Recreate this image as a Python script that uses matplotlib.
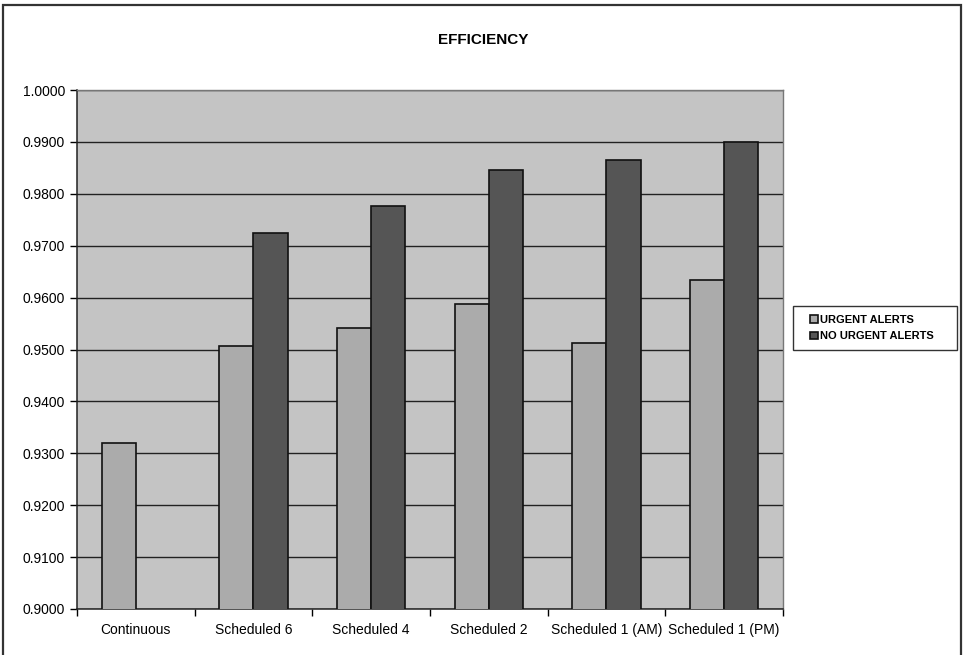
import matplotlib
matplotlib.use("Agg")
import matplotlib.pyplot as plt
from matplotlib.patches import Rectangle
import numpy as np

plt.rcParams['font.family'] = ['Liberation Sans', 'DejaVu Sans']

categories = ["Continuous", "Scheduled 6", "Scheduled 4", "Scheduled 2",
              "Scheduled 1 (AM)", "Scheduled 1 (PM)"]
urgent = [0.9320, 0.9507, 0.9542, 0.9587, 0.9513, 0.9634]
no_urgent = [np.nan, 0.9725, 0.9776, 0.9845, 0.9865, 0.9899]
yticks = [0.90, 0.91, 0.92, 0.93, 0.94, 0.95, 0.96, 0.97, 0.98, 0.99, 1.00]

W, H = 964, 655
fig = plt.figure(figsize=(W / 100, H / 100), dpi=100)
ax = fig.add_axes([77 / W, 1 - 609 / H, 706 / W, 519 / H])

# outer frame round the whole chart (bottom runs off the page)
fig.patches.append(Rectangle((3 / W, -0.02), 958 / W, 1 - 5 / H + 0.02,
                             transform=fig.transFigure, fill=False,
                             edgecolor="#333333", linewidth=1.6))

x = np.arange(len(categories))
w = 0.29
ax.set_facecolor("#c4c4c4")
ax.bar(x - w / 2, urgent, w, color="#ababab", edgecolor="#111111",
       linewidth=1.2, label="URGENT ALERTS", zorder=3)
ax.bar(x + w / 2, no_urgent, w, color="#555555", edgecolor="#111111",
       linewidth=1.2, label="NO URGENT ALERTS", zorder=3)

ax.set_xlim(-0.5, len(categories) - 0.5)
ax.set_ylim(0.90, 1.00)
ax.set_yticks(yticks)
ax.set_yticklabels([f"{v:.4f}" for v in yticks], fontsize=10)
ax.yaxis.grid(True, color="#222222", linewidth=1.0, zorder=1)

# category labels centred, tick marks at group boundaries
ax.set_xticks(x)
ax.set_xticklabels(categories, fontsize=10)
ax.tick_params(axis="x", length=0, pad=10)
ax.set_xticks(np.arange(-0.5, len(categories)), minor=True)
ax.tick_params(axis="x", which="minor", length=5, width=1, direction="out")
ax.tick_params(axis="y", length=5, width=1, direction="out")

for s in ["left", "bottom"]:
    ax.spines[s].set_color("#222222")
    ax.spines[s].set_linewidth(1.1)
for s in ["top", "right"]:
    ax.spines[s].set_color("#777777")
    ax.spines[s].set_linewidth(1.0)

fig.text(0.501, 1 - 40 / H, "EFFICIENCY", ha="center", va="center",
         fontsize=11, fontweight="bold")

# legend box drawn separately so it can carry wide side margins
fig.patches.append(Rectangle((793 / W, 1 - 350 / H), 164 / W, 44 / H,
                             transform=fig.transFigure, fill=False,
                             edgecolor="#333333", linewidth=1.0))
leg = ax.legend(loc="center left", bbox_to_anchor=(810 / W, 1 - 328 / H),
                bbox_transform=fig.transFigure, fontsize=8, frameon=False,
                handlelength=0.7, handleheight=0.7, handletextpad=0.2,
                borderpad=0, labelspacing=0.6, borderaxespad=0)
for t in leg.get_texts():
    t.set_fontweight("bold")

fig.savefig("out.png", dpi=100, facecolor="white")
